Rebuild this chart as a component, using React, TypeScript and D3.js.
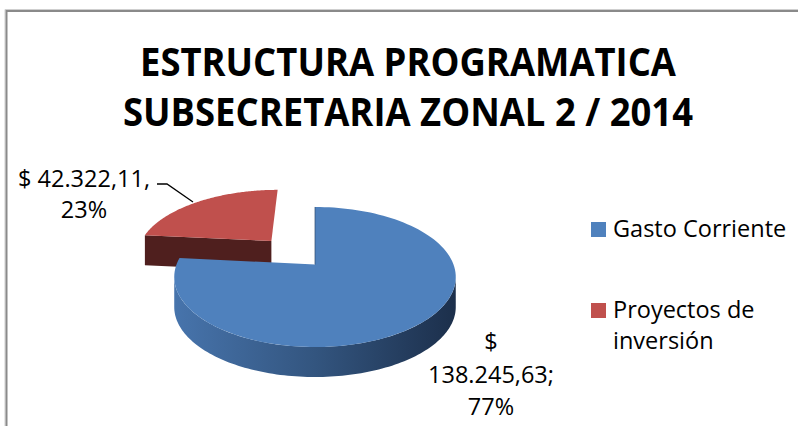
import React from "react";
import * as d3 from "d3";

const categories = ["Gasto Corriente", "Proyectos de inversión"];
const values = [138245.63, 42322.11];
const explodeFactors = [0, 0.5];
const topColors = ["#4F81BD", "#C0504D"];
const titleLines = ["ESTRUCTURA PROGRAMATICA", "SUBSECRETARIA ZONAL 2 / 2014"];
const legendLines = [["Gasto Corriente"], ["Proyectos de", "inversión"]];

const W = 798;
const H = 426;

const locale = d3.formatLocale({ decimal: ",", thousands: ".", grouping: [3], currency: ["$ ", ""] });
const fmtNum = locale.format(",.2f");
const fmtPct = d3.format(".0%");

// 3D pie projection parameters
const cx = 315;
const cy = 264.5;
const rx = 138.5;
const ry = 67.8;
const D = 5.6;
const T = 30;

function proj(u: number, v: number, z = 0): [number, number] {
  const f = D / (D - v);
  return [cx + rx * u * f, cy + ry * v * f + z];
}

const lineGen = d3.line<[number, number]>().x((d) => d[0]).y((d) => d[1]);

export default function App() {
  const total = d3.sum(values);
  const arcs = d3
    .pie<number>()
    .sort(null)
    .startAngle(0)
    .endAngle(2 * Math.PI)(values);

  // silhouette angles (max / min screen x)
  const sampleTh = d3.range(0, 2 * Math.PI, 0.002);
  const xs = sampleTh.map((t) => proj(Math.sin(t), -Math.cos(t))[0]);
  let thR = 0, thL = 0, maxX = -Infinity, minX = Infinity;
  sampleTh.forEach((t, i) => {
    if (xs[i] > maxX) { maxX = xs[i]; thR = t; }
    if (xs[i] < minX) { minX = xs[i]; thL = t; }
  });

  const slices = arcs.map((a, i) => {
    const mid = (a.startAngle + a.endAngle) / 2;
    const e = explodeFactors[i];
    const ou = e * Math.sin(mid);
    const ov = -e * Math.cos(mid);
    const n = 120;
    const ths = d3.range(n + 1).map((k) => a.startAngle + ((a.endAngle - a.startAngle) * k) / n);
    const edge = (t: number, z = 0) => proj(ou + Math.sin(t), ov - Math.cos(t), z);
    const apex = proj(ou, ov);
    const topPts: [number, number][] = [apex, ...ths.map((t) => edge(t)), apex];
    const top = lineGen(topPts) + "Z";

    const walls: { d: string; kind: string }[] = [];
    // outer wall
    const w0 = Math.max(a.startAngle, thR);
    const w1 = Math.min(a.endAngle, thL);
    if (w1 > w0) {
      const wt = d3.range(n + 1).map((k) => w0 + ((w1 - w0) * k) / n);
      const pts: [number, number][] = [
        ...wt.map((t) => edge(t)),
        ...wt.slice().reverse().map((t) => edge(t, T)),
      ];
      walls.push({ d: lineGen(pts) + "Z", kind: "outer" });
    }
    // start radial face: outward normal v-component = -sin(start)
    if (-Math.sin(a.startAngle) > 0.05) {
      const b = edge(a.startAngle);
      const pts: [number, number][] = [apex, b, [b[0], b[1] + T], [apex[0], apex[1] + T]];
      walls.push({ d: lineGen(pts) + "Z", kind: "side" });
    }
    if (Math.sin(a.endAngle) > 0.05) {
      const b = edge(a.endAngle);
      const pts: [number, number][] = [apex, b, [b[0], b[1] + T], [apex[0], apex[1] + T]];
      walls.push({ d: lineGen(pts) + "Z", kind: "side" });
    }
    return { i, a, top, walls, apex, ov, edgeTop: edge(0) };
  });

  const order = slices.slice().sort((p, q) => p.ov - q.ov);

  const pcts = values.map((v) => fmtPct(v / total));
  const labelLines = [
    ["$", fmtNum(values[0]) + ";", pcts[0]],
    ["$ " + fmtNum(values[1]) + ",", pcts[1]],
  ];
  const labelAnchors = [
    { x: 491, y: 350 },
    { x: 84, y: 187 },
  ];
  const labelLH = [32.5, 31];

  const font = "'Open Sans', 'Noto Sans', sans-serif";
  const blueSlice = slices[0];

  return (
    <svg width={W} height={H} style={{ position: "absolute", left: 0, top: 0, background: "#fff" }} fontFamily={font}>
      <defs>
        <linearGradient id="blueWall" gradientUnits="userSpaceOnUse" x1={minX} x2={maxX} y1={0} y2={0}>
          <stop offset="0" stopColor="#4774AC" />
          <stop offset="0.5" stopColor="#33557F" />
          <stop offset="1" stopColor="#1C2F4B" />
        </linearGradient>
      </defs>
      <rect x={0} y={0} width={W} height={H} fill="#fff" />
      <path d={`M5,${H} V9.5 H${W}`} fill="none" stroke="#cfcfcf" strokeWidth={1} />
      <path d={`M6.5,${H} V11 H${W}`} fill="none" stroke="#8a8a8a" strokeWidth={2} />

      {titleLines.map((t, k) => (
        <text
          key={t}
          x={408}
          y={76 + k * 50}
          textAnchor="middle"
          fontWeight="bold"
          fontSize={40}
          textLength={k === 0 ? 536 : 570}
          lengthAdjust="spacingAndGlyphs"
          fill="#000"
        >
          {t}
        </text>
      ))}

      {order.map((s) => (
        <g key={s.i}>
          {s.walls.map((w, j) => (
            <path
              key={j}
              d={w.d}
              fill={s.i === 0 ? (w.kind === "outer" ? "url(#blueWall)" : "#2A4568") : "#4F1F1E"}
            />
          ))}
          <path d={s.top} fill={topColors[s.i]} />
        </g>
      ))}
      <line
        x1={blueSlice.apex[0]}
        y1={blueSlice.apex[1]}
        x2={blueSlice.edgeTop[0]}
        y2={blueSlice.edgeTop[1]}
        stroke="#2E4A6E"
        strokeWidth={1}
        opacity={0.7}
      />

      {/* leader line for second label */}
      <polyline points="157,184 167,184 193,202" fill="none" stroke="#000" strokeWidth={1.3} />

      {labelLines.map((lines, i) => (
        <text key={i} textAnchor="middle" fontSize={23.5} fill="#000">
          {lines.map((l, k) => (
            <tspan key={k} x={labelAnchors[i].x} y={labelAnchors[i].y + k * labelLH[i]}>
              {l}
            </tspan>
          ))}
        </text>
      ))}

      {categories.map((c, i) => (
        <g key={c}>
          <rect x={591} y={222 + i * 81} width={15} height={15} fill={topColors[i]} />
          <text fontSize={23.5} fill="#000">
            {legendLines[i].map((l, k) => (
              <tspan key={k} x={613} y={237 + i * 81 + k * 31}>
                {l}
              </tspan>
            ))}
          </text>
        </g>
      ))}
    </svg>
  );
}
